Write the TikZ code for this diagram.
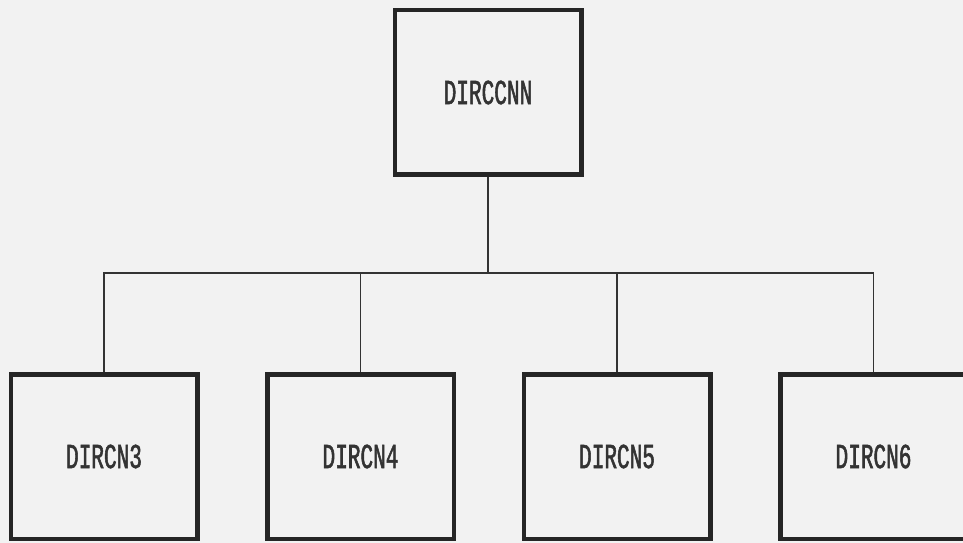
\documentclass[tikz,border=0pt]{standalone}
\usepackage{fontspec}
\newfontfamily\dirfont[FakeStretch=0.6,FakeBold=1.5]{Liberation Mono}
\usetikzlibrary{positioning}

\begin{document}
\begin{tikzpicture}[node distance=5.13cm,
  dirbox/.style={draw=black!85,line width=0.09cm,rectangle,
    minimum width=3.73cm,minimum height=3.29cm,inner sep=0pt,
    font=\dirfont\fontsize{20}{22}\selectfont,text=black!80},
  link/.style={draw=black!80,line width=0.035cm}]
\fill[black!5] (0,0) rectangle (19.26,-10.86);
\useasboundingbox (0,0) rectangle (19.26,-10.86);
% top of the tree
\node[dirbox] at (9.76,-1.85) (dirccnn) {DIRCCNN};
\coordinate (bus) at (9.76,-5.46);
% bottom row
\node[dirbox] at (2.08,-9.13) (dircn3) {DIRCN3};
\node[dirbox,right of=dircn3] (dircn4) {DIRCN4};
\node[dirbox,right of=dircn4] (dircn5) {DIRCN5};
\node[dirbox,right of=dircn5] (dircn6) {DIRCN6};
\foreach \child in {dircn3,dircn4,dircn5,dircn6}
  \draw[link] (dirccnn.south) -- (bus) -| (\child.north);
\end{tikzpicture}
\end{document}
